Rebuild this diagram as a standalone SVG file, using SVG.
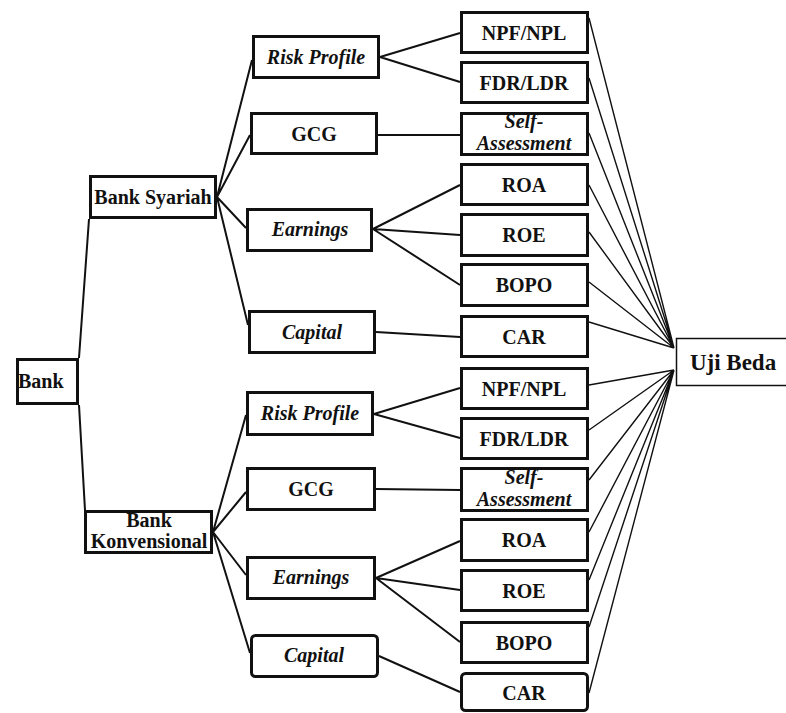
<svg xmlns="http://www.w3.org/2000/svg" width="786" height="713" viewBox="0 0 786 713">
<style>
.box{fill:#fff;stroke:#111;stroke-width:3}
.thin{fill:#fff;stroke:#111;stroke-width:1.5}
.t{font-family:'Liberation Serif','Tinos','Times New Roman','DejaVu Serif',serif;font-weight:bold;font-size:20px;fill:#111;text-anchor:middle}
.i{font-style:italic}
.c{stroke:#111;stroke-width:2;fill:none}
.f{stroke:#111;stroke-width:1.4;fill:none}
</style>
<rect width="786" height="713" fill="#fff"/>
<g id="connectors">
<path class="c" d="M79,358 L89,219 M79,405 L85,510"/>
<path class="c" d="M217,197 L252,60 M217,197 L250,135 M217,197 L246,228 M217,197 L248,325"/>
<path class="c" d="M213,532 L246,415 M213,532 L246,492 M213,532 L246,575 M213,532 L250,653"/>
<path class="c" d="M380,57 L460,33 M380,57 L460,82 M378,135 L460,135 M373,229 L460,185 M373,229 L460,235 M373,229 L460,285 M376,332 L460,337"/>
<path class="c" d="M374,414 L460,388 M374,414 L460,438 M376,489 L460,490 M376,578 L460,541 M376,578 L460,590 M376,578 L460,642 M379,656 L460,692"/>
<path class="f" d="M589,18 L674,348 M589,78 L674,348 M589,133 L674,348 M589,185 L674,348 M589,232 L674,348 M589,282 L674,348 M589,322 L674,348"/>
<path class="f" d="M589,385 L674,370 M589,430 L674,370 M589,480 L674,370 M589,532 L674,370 M589,580 L674,370 M589,627 L674,370 M589,693 L674,370"/>
</g>
<g id="bank"><rect class="box" x="17.5" y="359.5" width="60" height="44"/><text class="t" x="18" y="388" style="text-anchor:start">Bank</text></g>
<g id="bank-syariah"><rect class="box" x="90.5" y="176.5" width="125" height="41"/><text class="t" x="153" y="204">Bank Syariah</text></g>
<g id="bank-konvensional"><rect class="box" x="85.5" y="511.5" width="126" height="41"/><text class="t" x="149" y="527">Bank</text><text class="t" x="149" y="548">Konvensional</text></g>

<g id="risk-profile-1"><rect class="box" x="253.5" y="36.5" width="125" height="41"/><text class="t i" x="316" y="64">Risk Profile</text></g>
<g id="gcg-1"><rect class="box" x="251.5" y="113.5" width="125" height="40"/><text class="t" x="314" y="141">GCG</text></g>
<g id="earnings-1"><rect class="box" x="247.5" y="209.5" width="124" height="41"/><text class="t i" x="310" y="236">Earnings</text></g>
<g id="capital-1"><rect class="box" x="249.5" y="311.5" width="125" height="41"/><text class="t i" x="312" y="339">Capital</text></g>

<g id="risk-profile-2"><rect class="box" x="247.5" y="392.5" width="125" height="42"/><text class="t i" x="310" y="420">Risk Profile</text></g>
<g id="gcg-2"><rect class="box" x="247.5" y="468.5" width="127" height="41"/><text class="t" x="311" y="496">GCG</text></g>
<g id="earnings-2"><rect class="box" x="247.5" y="557.5" width="127" height="41"/><text class="t i" x="311" y="584">Earnings</text></g>
<g id="capital-2"><rect class="box" x="251.5" y="635.5" width="126" height="41" rx="4"/><text class="t i" x="314" y="662">Capital</text></g>

<g id="npf-1"><rect class="box" x="461.5" y="12.5" width="126" height="40"/><text class="t" x="524" y="40">NPF/NPL</text></g>
<g id="fdr-1"><rect class="box" x="461.5" y="62.5" width="126" height="40"/><text class="t" x="524" y="90">FDR/LDR</text></g>
<g id="sa-1"><rect class="box" x="461.5" y="113.5" width="126" height="41"/><text class="t i" x="524" y="128">Self-</text><text class="t i" x="524" y="150">Assessment</text></g>
<g id="roa-1"><rect class="box" x="461.5" y="164.5" width="126" height="40"/><text class="t" x="524" y="192">ROA</text></g>
<g id="roe-1"><rect class="box" x="461.5" y="214.5" width="126" height="41"/><text class="t" x="524" y="242">ROE</text></g>
<g id="bopo-1"><rect class="box" x="461.5" y="264.5" width="126" height="41"/><text class="t" x="524" y="292">BOPO</text></g>
<g id="car-1"><rect class="box" x="461.5" y="316.5" width="126" height="40"/><text class="t" x="524" y="344">CAR</text></g>

<g id="npf-2"><rect class="box" x="461.5" y="368.5" width="126" height="40"/><text class="t" x="524" y="396">NPF/NPL</text></g>
<g id="fdr-2"><rect class="box" x="461.5" y="418.5" width="126" height="40"/><text class="t" x="524" y="446">FDR/LDR</text></g>
<g id="sa-2"><rect class="box" x="461.5" y="468.5" width="126" height="42"/><text class="t i" x="524" y="484">Self-</text><text class="t i" x="524" y="506">Assessment</text></g>
<g id="roa-2"><rect class="box" x="461.5" y="519.5" width="126" height="41"/><text class="t" x="524" y="547">ROA</text></g>
<g id="roe-2"><rect class="box" x="461.5" y="570.5" width="126" height="40"/><text class="t" x="524" y="598">ROE</text></g>
<g id="bopo-2"><rect class="box" x="461.5" y="622.5" width="126" height="40"/><text class="t" x="524" y="650">BOPO</text></g>
<g id="car-2"><rect class="box" x="461.5" y="673.5" width="126" height="37" rx="4"/><text class="t" x="524" y="700">CAR</text></g>

<g id="uji-beda"><rect class="thin" x="676.5" y="338.5" width="115" height="47"/><text class="t" x="733" y="370" style="font-size:23px">Uji Beda</text></g>
</svg>
